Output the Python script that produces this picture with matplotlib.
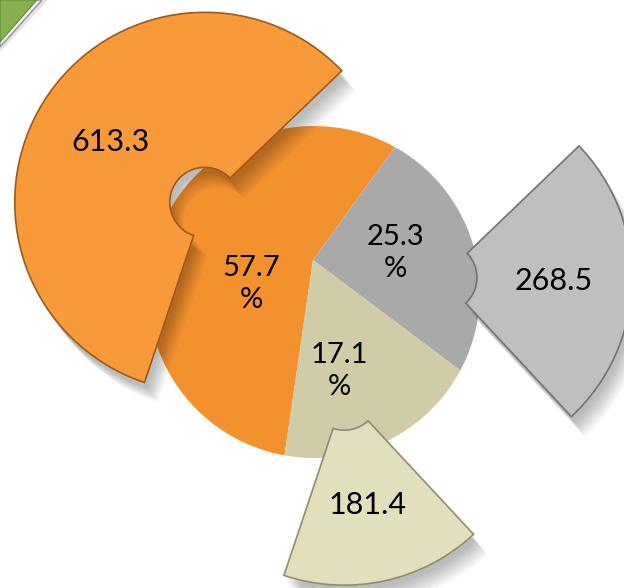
import numpy as np
import matplotlib.pyplot as plt
from matplotlib.patches import Circle, Polygon

# values shown on the outer ring, shares shown on the inner pie
values = [613.3, 268.5, 181.4]
total = sum(values)

pie_colors = ['#F4912F', '#A9A9A9', '#CFCCA7']
ring_colors = ['#F89A39', '#BFBFBF', '#E2DFBD']
ring_edges = ['#9C5A1C', '#727272', '#8F8C70']

plt.rcParams['font.family'] = ['Lato', 'DejaVu Sans']

fig = plt.figure(figsize=(6.24, 5.88), dpi=100)
ax = fig.add_axes([0, 0, 1, 1])
ax.set_xlim(0, 624)
ax.set_ylim(0, 588)

# green corner piece
ax.add_patch(Polygon([(0, 588), (48, 588), (0, 536)], closed=True,
                     facecolor='#e4e4e4', edgecolor='none', zorder=1))
ax.add_patch(Polygon([(0, 588), (42, 588), (0, 541)], closed=True,
                     facecolor='white', edgecolor='#9a9a9a', lw=1.2, zorder=1.5))
ax.add_patch(Polygon([(0, 588), (37, 588), (0, 546)], closed=True,
                     facecolor='#86b04f', edgecolor='#5f8a35', lw=0.8, zorder=2))

# inner pie, clipped to a disc so the hub sits above the middle
disc = Circle((314, 296), 166, facecolor='none', edgecolor='none')
ax.add_patch(disc)
wedges, _, pct_texts = ax.pie(values, colors=pie_colors, center=(313, 328), radius=230,
                              startangle=261.7, counterclock=False, frame=True,
                              autopct='%.1f\n%%', pctdistance=0.3,
                              textprops=dict(fontsize=21, color='black', linespacing=1.3),
                              wedgeprops=dict(linewidth=0))
for w in wedges:
    w.set_clip_on(True)
    w.set_clip_path(disc)
    w.set_zorder(3)
for t, pos in zip(pct_texts, [(251, 304), (395, 335), (339, 217)]):
    t.set_position(pos)
    t.set_zorder(6)

# soft shadow under the exploded ring pieces
for i in range(8):
    sh, _ = ax.pie(values, colors=['black'] * 3, center=(318 + 3 + i * 1.5, 314 - 6 - i * 2),
                   radius=190, startangle=251.5, counterclock=False, frame=True,
                   explode=[134, 124, 124],
                   wedgeprops=dict(width=155, linewidth=0, alpha=0.035))
    for w in sh:
        w.set_zorder(3.5)

# exploded outer ring
ring, _, val_texts = ax.pie(values, colors=ring_colors, center=(318, 314), radius=190,
                            startangle=251.5, counterclock=False, frame=True,
                            explode=[134, 124, 124],
                            autopct=lambda p: f'{p * total / 100:.1f}', pctdistance=0.59,
                            textprops=dict(fontsize=22, color='black'),
                            wedgeprops=dict(width=155, linewidth=1.2))
for w, ec in zip(ring, ring_edges):
    w.set_edgecolor(ec)
    w.set_zorder(4)
for t in val_texts:
    t.set_zorder(6)

ax.set_xlim(0, 624)
ax.set_ylim(0, 588)
ax.set_aspect('equal')
ax.axis('off')

fig.savefig('out.png', dpi=100, facecolor='white')
